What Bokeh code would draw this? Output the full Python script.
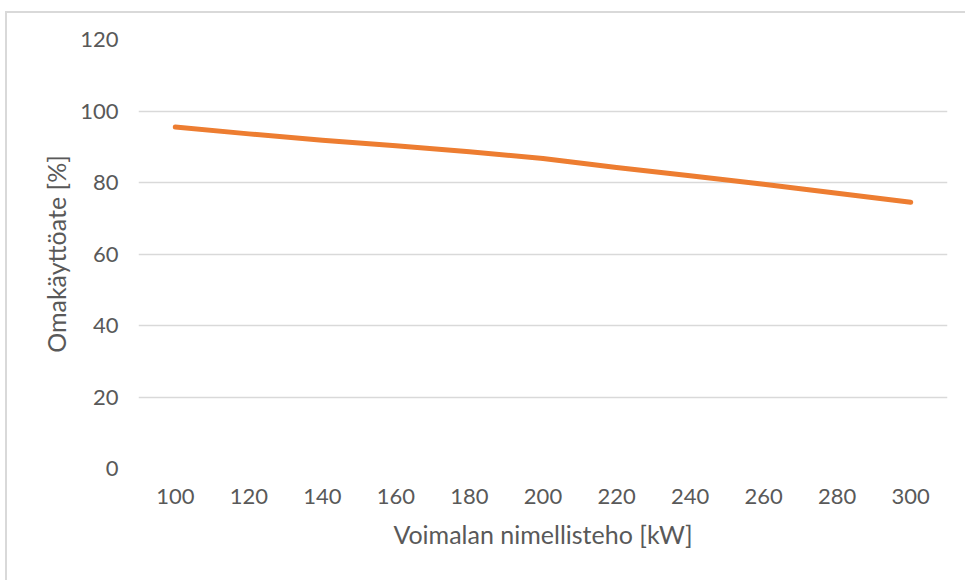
from bokeh.plotting import figure
from bokeh.models import FactorRange, Range1d, SingleIntervalTicker
from bokeh.embed import file_html
from bokeh.resources import INLINE

# Rated plant power [kW] and self-consumption ratio [%]
power_kw = ["100", "120", "140", "160", "180", "200", "220", "240", "260", "280", "300"]
self_consumption = [95.5, 93.6, 91.8, 90.3, 88.6, 86.7, 84.2, 81.9, 79.5, 77.0, 74.5]

y_ticks = [0, 20, 40, 60, 80, 100, 120]

FONT = "Lato"
TEXT = "#595959"
GRID = "#D9D9D9"
ORANGE = "#ED7D31"

p = figure(
    width=960, height=569,
    x_range=FactorRange(factors=power_kw, range_padding=0),
    y_range=Range1d(0, 120),
    output_backend="svg", toolbar_location=None,
    min_border_left=131, min_border_right=20,
    min_border_top=26, min_border_bottom=114,
)
p.margin = (11, 0, 0, 5)
p.styles = {"border-top": "2px solid #D9D9D9", "border-left": "2px solid #D9D9D9"}

p.line(power_kw, self_consumption, line_color=ORANGE, line_width=5, line_cap="round", line_join="round")

p.outline_line_color = None
p.xgrid.grid_line_color = None
p.ygrid.grid_line_color = GRID
p.ygrid.grid_line_width = 1.5
p.yaxis.ticker = y_ticks

for ax in (p.xaxis, p.yaxis):
    ax.axis_line_color = None
    ax.major_tick_line_color = None
    ax.minor_tick_line_color = None
    ax.major_label_text_font = FONT
    ax.major_label_text_font_size = "22px"
    ax.major_label_text_color = TEXT
    ax.axis_label_text_font = FONT
    ax.axis_label_text_font_size = "25px"
    ax.axis_label_text_color = TEXT
    ax.axis_label_text_font_style = "normal"

p.xaxis.major_label_standoff = 14
p.yaxis.major_label_standoff = 14
p.xaxis.axis_label = "Voimalan nimellisteho [kW]"
p.yaxis.axis_label = "Omakäyttöate [%]"
p.xaxis.axis_label_standoff = 12
p.yaxis.axis_label_standoff = 6

open("out.html", "w").write(file_html(p, INLINE))
